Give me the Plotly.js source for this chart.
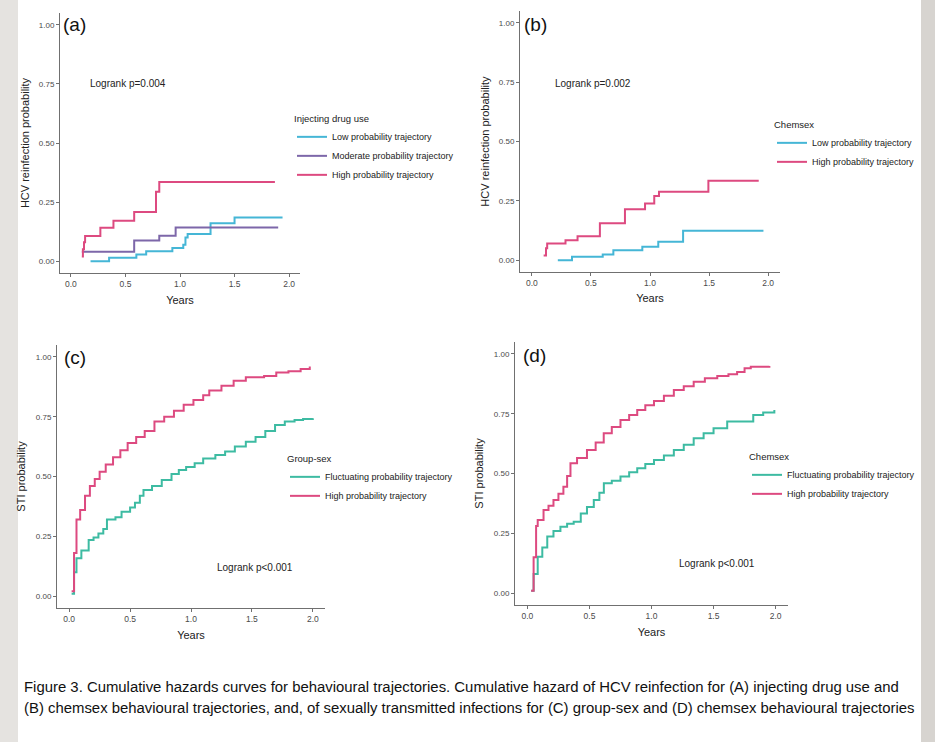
<!DOCTYPE html>
<html><head><meta charset="utf-8">
<script src="https://cdn.plot.ly/plotly-3.0.1.min.js"></script>
<style>html,body{margin:0;padding:0;background:#fff}#chart{width:935px;height:742px}</style>
</head><body><div id="chart"></div>
<script>
// ---------- data ----------
const xTickVals = [0, 0.5, 1, 1.5, 2];
const xTickText = ['0.0', '0.5', '1.0', '1.5', '2.0'];
const yTickVals = [0, 0.25, 0.5, 0.75, 1];
const yTickText = ['0.00', '0.25', '0.50', '0.75', '1.00'];

// (a) Injecting drug use - HCV reinfection
const aLowX  = [0.18, 0.35, 0.60, 0.69, 0.93, 1.03, 1.05, 1.07, 1.28, 1.50, 1.94];
const aLowY  = [0.00, 0.014, 0.028, 0.042, 0.056, 0.07, 0.10, 0.115, 0.16, 0.185, 0.185];
const aModX  = [0.10, 0.58, 0.81, 0.96, 1.90];
const aModY  = [0.04, 0.087, 0.108, 0.143, 0.143];
const aHighX = [0.10, 0.11, 0.12, 0.13, 0.27, 0.39, 0.58, 0.78, 0.81, 1.87];
const aHighY = [0.02, 0.05, 0.08, 0.107, 0.141, 0.171, 0.208, 0.294, 0.335, 0.335];

// (b) Chemsex - HCV reinfection
const bLowX  = [0.22, 0.34, 0.60, 0.69, 0.935, 1.07, 1.28, 1.96];
const bLowY  = [0.00, 0.014, 0.024, 0.042, 0.056, 0.077, 0.124, 0.124];
const bHighX = [0.10, 0.12, 0.13, 0.285, 0.387, 0.576, 0.788, 0.958, 1.036, 1.076, 1.494, 1.92];
const bHighY = [0.02, 0.05, 0.07, 0.084, 0.101, 0.155, 0.214, 0.239, 0.27, 0.288, 0.335, 0.335];

// (c) Group-sex - STI
const cFlucX = [0.02, 0.04, 0.06, 0.10, 0.16, 0.20, 0.24, 0.28, 0.31, 0.38, 0.43, 0.50, 0.54, 0.58, 0.61, 0.68, 0.76, 0.84, 0.90, 0.96, 1.03, 1.10, 1.20, 1.28, 1.36, 1.45, 1.53, 1.61, 1.69, 1.77, 1.85, 1.92, 2.00];
const cFlucY = [0.01, 0.10, 0.158, 0.19, 0.234, 0.245, 0.262, 0.28, 0.32, 0.33, 0.353, 0.37, 0.39, 0.42, 0.444, 0.46, 0.485, 0.51, 0.527, 0.54, 0.555, 0.575, 0.59, 0.605, 0.625, 0.645, 0.665, 0.69, 0.715, 0.73, 0.736, 0.74, 0.744];
const cHighX = [0.02, 0.04, 0.06, 0.09, 0.13, 0.17, 0.21, 0.25, 0.30, 0.36, 0.42, 0.48, 0.55, 0.62, 0.70, 0.78, 0.86, 0.94, 1.02, 1.10, 1.15, 1.25, 1.35, 1.45, 1.60, 1.70, 1.80, 1.90, 1.975];
const cHighY = [0.02, 0.18, 0.32, 0.36, 0.42, 0.46, 0.49, 0.52, 0.55, 0.58, 0.61, 0.64, 0.665, 0.69, 0.73, 0.75, 0.775, 0.80, 0.82, 0.84, 0.86, 0.88, 0.90, 0.915, 0.92, 0.935, 0.94, 0.95, 0.96];

// (d) Chemsex - STI
const dFlucX = [0.03, 0.05, 0.083, 0.12, 0.16, 0.21, 0.266, 0.32, 0.373, 0.43, 0.48, 0.535, 0.58, 0.616, 0.68, 0.75, 0.82, 0.885, 0.95, 1.02, 1.10, 1.18, 1.26, 1.34, 1.42, 1.50, 1.61, 1.82, 1.90, 1.99];
const dFlucY = [0.01, 0.08, 0.152, 0.19, 0.236, 0.26, 0.277, 0.29, 0.298, 0.333, 0.36, 0.389, 0.42, 0.459, 0.47, 0.487, 0.505, 0.522, 0.54, 0.556, 0.575, 0.598, 0.62, 0.647, 0.668, 0.689, 0.717, 0.745, 0.755, 0.766];
const dHighX = [0.03, 0.05, 0.07, 0.083, 0.13, 0.17, 0.21, 0.25, 0.29, 0.32, 0.347, 0.40, 0.48, 0.55, 0.615, 0.68, 0.75, 0.82, 0.885, 0.95, 1.02, 1.10, 1.18, 1.26, 1.34, 1.43, 1.53, 1.62, 1.69, 1.75, 1.80, 1.95];
const dHighY = [0.01, 0.15, 0.28, 0.305, 0.347, 0.365, 0.389, 0.415, 0.445, 0.49, 0.543, 0.565, 0.598, 0.63, 0.668, 0.695, 0.724, 0.745, 0.766, 0.785, 0.803, 0.825, 0.849, 0.865, 0.884, 0.898, 0.908, 0.915, 0.925, 0.94, 0.946, 0.95];

const seriesNames = {
  low: 'Low probability trajectory',
  mod: 'Moderate probability trajectory',
  high: 'High probability trajectory',
  fluc: 'Fluctuating probability trajectory'
};
const legendTitles = ['Injecting drug use', 'Chemsex', 'Group-sex', 'Chemsex'];
const logrankText = ['Logrank p=0.004', 'Logrank p=0.002', 'Logrank p<0.001', 'Logrank p<0.001'];
const panelLabels = ['(a)', '(b)', '(c)', '(d)'];
const yTitles = ['HCV reinfection probability', 'HCV reinfection probability', 'STI probability', 'STI probability'];
const captionLines = [
  'Figure 3. Cumulative hazards curves for behavioural trajectories. Cumulative hazard of HCV reinfection for (A) injecting drug use and',
  '(B) chemsex behavioural trajectories, and, of sexually transmitted infections for (C) group-sex and (D) chemsex behavioural trajectories'
];

// ---------- styling ----------
const W = 935, H = 742;
const PINK = '#dd4a80', CYAN = '#45b6d6', PURPLE = '#7d67a9', TEAL = '#3dbba2';
const FONT = 'Liberation Sans, Arial, sans-serif';
const px = v => v / W;
const py = v => 1 - v / H;

function tr(x, y, name, color, ax, leg) {
  return {
    x: x, y: y, name: name, type: 'scatter', mode: 'lines',
    line: {shape: 'hv', color: color, width: 2},
    xaxis: 'x' + ax, yaxis: 'y' + ax, legend: leg, hoverinfo: 'skip'
  };
}
const data = [
  tr(aLowX, aLowY, seriesNames.low, CYAN, '', 'legend'),
  tr(aModX, aModY, seriesNames.mod, PURPLE, '', 'legend'),
  tr(aHighX, aHighY, seriesNames.high, PINK, '', 'legend'),
  tr(bLowX, bLowY, seriesNames.low, CYAN, '2', 'legend2'),
  tr(bHighX, bHighY, seriesNames.high, PINK, '2', 'legend2'),
  tr(cFlucX, cFlucY, seriesNames.fluc, TEAL, '3', 'legend3'),
  tr(cHighX, cHighY, seriesNames.high, PINK, '3', 'legend3'),
  tr(dFlucX, dFlucY, seriesNames.fluc, TEAL, '4', 'legend4'),
  tr(dHighX, dHighY, seriesNames.high, PINK, '4', 'legend4')
];

// panel boxes in pixels: [left, right, top, bottom]
const boxes = [[60, 300, 13, 273], [520, 780, 11, 272], [57, 325, 345, 608], [515, 788, 342, 605]];
const xStand = [8, 7, 8, 8];
const yStand = [6, 6, 7, 7];

function xa(i) {
  const b = boxes[i];
  return {
    domain: [px(b[0]), px(b[1])], anchor: 'y' + (i ? i + 1 : ''),
    range: [-0.1, 2.1], tickvals: xTickVals, ticktext: xTickText,
    showgrid: false, zeroline: false, showline: true, linecolor: '#707070', linewidth: 1,
    ticks: 'outside', ticklen: 3, tickcolor: '#707070', tickwidth: 1,
    tickfont: {size: 8.5, color: '#4a4a4a', family: FONT},
    title: {text: 'Years', font: {size: 11, color: '#222', family: FONT}, standoff: xStand[i]},
    automargin: false, fixedrange: true
  };
}
function ya(i) {
  const b = boxes[i];
  return {
    domain: [py(b[3]), py(b[2])], anchor: 'x' + (i ? i + 1 : ''),
    range: [-0.05, 1.05], tickvals: yTickVals, ticktext: yTickText,
    showgrid: false, zeroline: false, showline: true, linecolor: '#707070', linewidth: 1,
    ticks: 'outside', ticklen: 3, tickcolor: '#707070', tickwidth: 1,
    tickfont: {size: 8, color: '#4a4a4a', family: FONT},
    title: {text: yTitles[i], font: {size: 11, color: '#222', family: FONT}, standoff: yStand[i]},
    automargin: false, fixedrange: true
  };
}
function leg(i, xp, yp) {
  return {
    x: px(xp), y: py(yp), xanchor: 'left', yanchor: 'top',
    xref: 'paper', yref: 'paper', bgcolor: 'rgba(0,0,0,0)', borderwidth: 0,
    font: {size: 9, color: '#222', family: FONT}, tracegroupgap: 0,
    title: {text: legendTitles[i], font: {size: 9.5, color: '#222', family: FONT}},
    itemclick: false, itemdoubleclick: false
  };
}

const annPos = [[88, 84], [553, 83], [215, 567], [677, 563]];
const labPos = [[61, 25], [522, 24], [62, 357], [521, 355]];
const annotations = [];
for (let i = 0; i < 4; i++) {
  annotations.push({text: logrankText[i], xref: 'paper', yref: 'paper', x: px(annPos[i][0]), y: py(annPos[i][1]),
    xanchor: 'left', yanchor: 'middle', showarrow: false, font: {size: 10, color: '#222', family: FONT}});
  annotations.push({text: panelLabels[i], xref: 'paper', yref: 'paper', x: px(labPos[i][0]), y: py(labPos[i][1]),
    xanchor: 'left', yanchor: 'middle', showarrow: false, font: {size: 19, color: '#111', family: FONT}});
}
const capY = [687, 708];
for (let k = 0; k < 2; k++) {
  annotations.push({text: captionLines[k], xref: 'paper', yref: 'paper', x: px(22), y: py(capY[k]),
    xanchor: 'left', yanchor: 'middle', showarrow: false,
    font: {size: 14.9, color: '#111', family: 'Liberation Sans, Arial, sans-serif'}});
}

const layout = {
  width: W, height: H, margin: {l: 0, r: 0, t: 0, b: 0},
  paper_bgcolor: '#ffffff', plot_bgcolor: 'rgba(0,0,0,0)',
  showlegend: true,
  xaxis: xa(0), yaxis: ya(0), xaxis2: xa(1), yaxis2: ya(1),
  xaxis3: xa(2), yaxis3: ya(2), xaxis4: xa(3), yaxis4: ya(3),
  legend: leg(0, 292, 110), legend2: leg(1, 772, 116),
  legend3: leg(2, 285, 450), legend4: leg(3, 747, 448),
  annotations: annotations,
  shapes: [
    {type: 'rect', xref: 'paper', yref: 'paper', x0: 0, x1: px(18), y0: 0, y1: 1, fillcolor: '#e5e3e0', line: {width: 0}, layer: 'below'},
    {type: 'rect', xref: 'paper', yref: 'paper', x0: px(921), x1: 1, y0: 0, y1: 1, fillcolor: '#d7d4d0', line: {width: 0}, layer: 'below'}
  ]
};

Plotly.newPlot('chart', data, layout, {displayModeBar: false, staticPlot: true});
</script></body></html>
